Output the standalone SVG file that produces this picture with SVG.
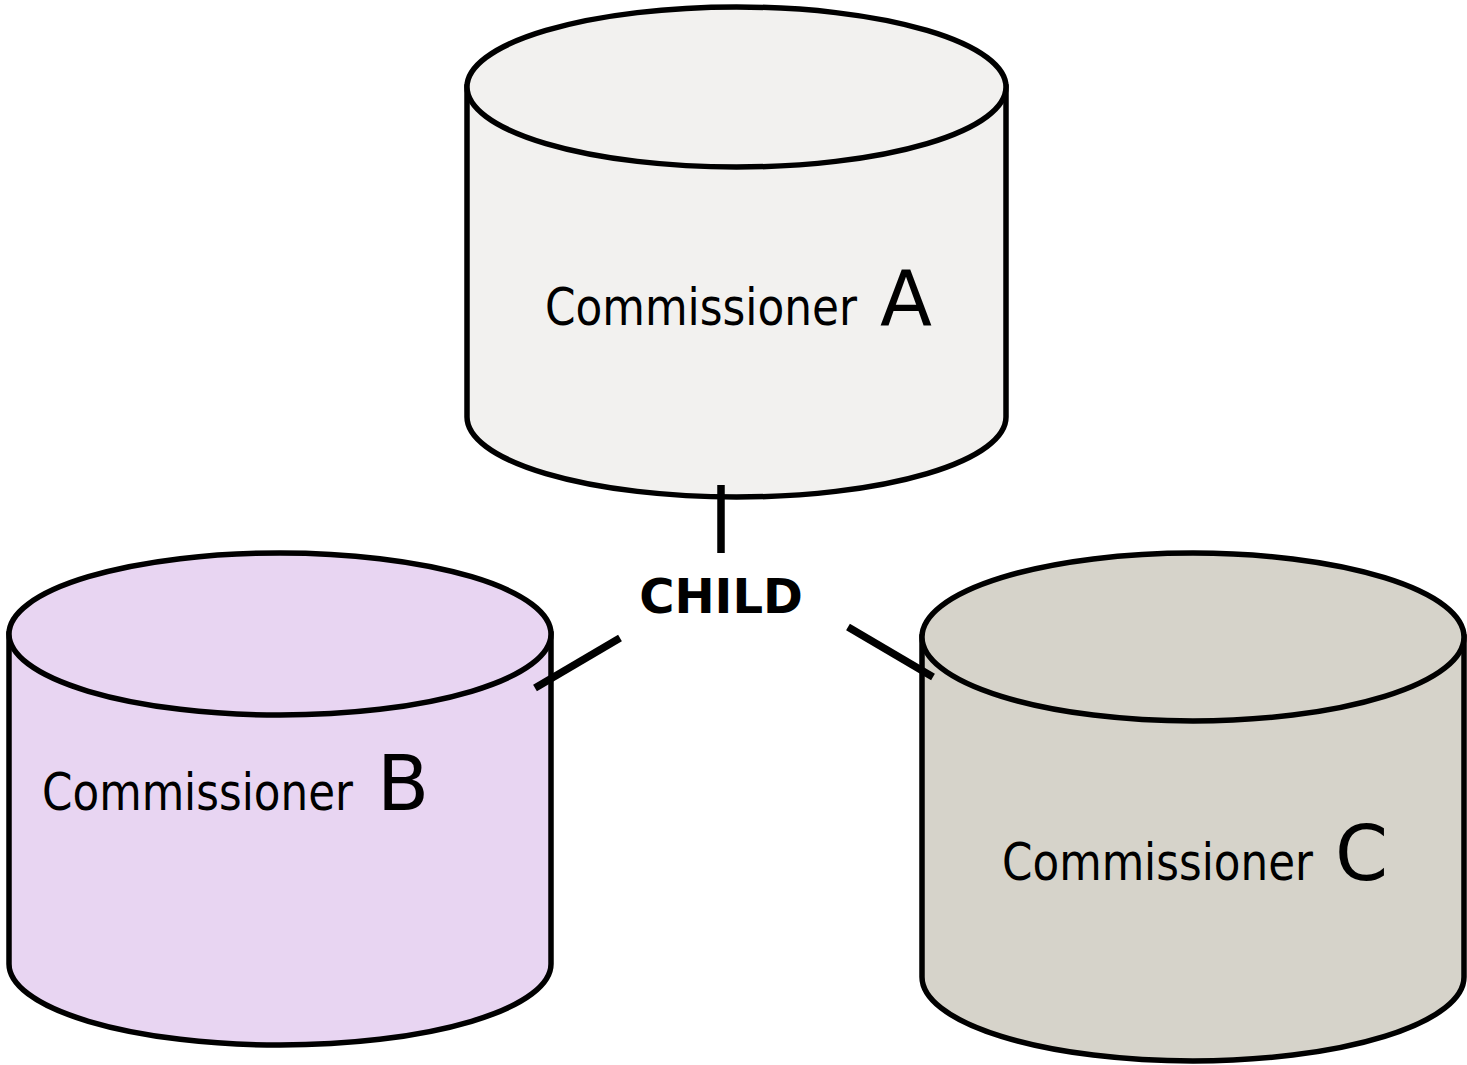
<svg xmlns="http://www.w3.org/2000/svg" width="1467" height="1065" viewBox="0 0 1467 1065">
<style>
.cyl{stroke:#000;stroke-width:5.5;}
.lbl{font-family:"DejaVu Sans","Liberation Sans",sans-serif;font-size:52px;fill:#000;}
.big{font-family:"DejaVu Sans","Liberation Sans",sans-serif;font-size:76px;fill:#000;}
.conn{stroke:#000;stroke-width:7.5;stroke-linecap:butt;fill:none;}
.child{font-family:"DejaVu Sans","Liberation Sans",sans-serif;font-size:48px;font-weight:bold;fill:#000;}
</style>
<rect width="1467" height="1065" fill="#fff"/>
<g id="nodeA">
<path class="cyl" fill="#f2f1ef" d="M467,87 V417 A269.5,80 0 0 0 1006,417 V87 Z"/>
<ellipse class="cyl" fill="#f2f1ef" cx="736.5" cy="87" rx="269.5" ry="80"/>
<text class="lbl" transform="translate(545,325) scale(0.842,1)">Commissioner</text>
<text class="big" x="880" y="325">A</text>
</g>
<g id="nodeB">
<path class="cyl" fill="#e8d5f2" d="M9,634 V964 A271,81 0 0 0 551,964 V634 Z"/>
<ellipse class="cyl" fill="#e8d5f2" cx="280" cy="634" rx="271" ry="81"/>
<text class="lbl" transform="translate(42,810) scale(0.839,1)">Commissioner</text>
<text class="big" x="377" y="810">B</text>
</g>
<g id="nodeC">
<path class="cyl" fill="#d6d3ca" d="M922,637 V977 A271,84 0 0 0 1464,977 V637 Z"/>
<ellipse class="cyl" fill="#d6d3ca" cx="1193" cy="637" rx="271" ry="84"/>
<text class="lbl" transform="translate(1002,880) scale(0.839,1)">Commissioner</text>
<text class="big" x="1335" y="880">C</text>
</g>
<g id="connectors">
<line class="conn" x1="721" y1="485" x2="721" y2="553"/>
<line class="conn" x1="620" y1="638" x2="535" y2="688"/>
<line class="conn" x1="848" y1="627" x2="933" y2="677"/>
</g>
<g id="label-child">
<text class="child" x="721" y="613" text-anchor="middle">CHILD</text>
</g>
</svg>
